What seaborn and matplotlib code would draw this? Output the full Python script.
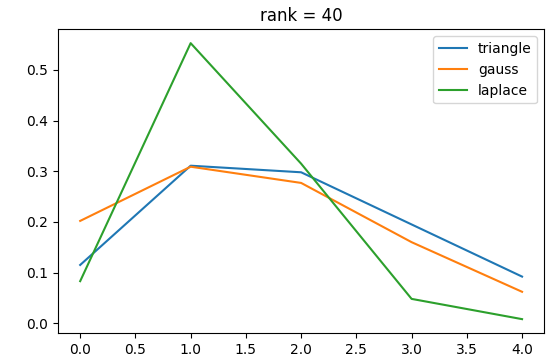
import matplotlib
matplotlib.use("Agg")
import matplotlib.pyplot as plt
import seaborn as sns
import pandas as pd

x_vals = [0, 1, 2, 3, 4]
triangle = [0.115, 0.311, 0.298, 0.195, 0.092]
gauss = [0.202, 0.309, 0.277, 0.160, 0.062]
laplace = [0.083, 0.553, 0.315, 0.048, 0.008]
series_names = ["triangle", "gauss", "laplace"]

frames = []
for name, vals in zip(series_names, [triangle, gauss, laplace]):
    frames.append(pd.DataFrame({"x": x_vals, "value": vals, "kernel": name}))
df = pd.concat(frames, ignore_index=True)

plt.rcParams["font.family"] = ["DejaVu Sans"]
plt.rcParams["font.size"] = 10

fig, ax = plt.subplots(figsize=(5.48, 3.58), dpi=100)
fig.subplots_adjust(left=0.106, right=0.993, top=0.918, bottom=0.070)

sns.lineplot(data=df, x="x", y="value", hue="kernel", palette="tab10",
             linewidth=1.5, ax=ax)

ax.set_xlabel("")
ax.set_ylabel("")
ax.set_title("rank = 40", fontsize=12)
ax.set_xticks([0.0, 0.5, 1.0, 1.5, 2.0, 2.5, 3.0, 3.5, 4.0])
ax.legend(title=None, loc="upper right")

fig.savefig("out.png", dpi=100)
